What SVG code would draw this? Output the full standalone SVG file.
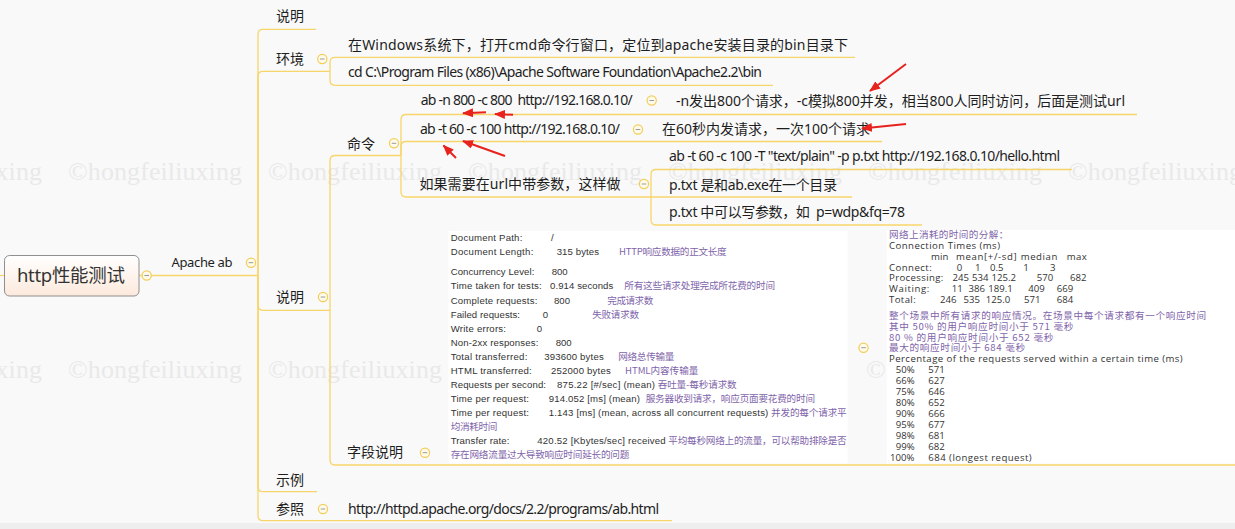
<svg xmlns="http://www.w3.org/2000/svg" xmlns:xlink="http://www.w3.org/1999/xlink" width="1235" height="529" viewBox="0 0 1235 529">
<style>
.bg{fill:#f9f9f9}
.wm{font-family:"Liberation Serif",serif;font-size:26px;fill:#e9e9e9}
.t{font-family:"Noto Sans","Noto Sans CJK SC",sans-serif;font-size:14px;fill:#1e1e1e}
.ta{font-family:"Noto Sans","Noto Sans CJK SC",sans-serif;font-size:13px;fill:#1e1e1e}
.root{font-family:"Noto Sans","Noto Sans CJK SC",sans-serif;font-size:18.5px;fill:#333}
.c{fill:none;stroke:#f7d56a;stroke-width:1.3}
.img{fill:#ffffff}
.e1{font-family:"Liberation Sans","Noto Sans CJK SC",sans-serif;font-size:9.6px;fill:#333}
.p1{font-family:"Noto Sans CJK SC",sans-serif;font-size:9.6px;fill:#8064aa}
.e2{font-family:"Open Sans","Noto Sans CJK SC",sans-serif;font-size:9.6px;fill:#333}
.p2{font-family:"Noto Sans CJK SC","Open Sans",sans-serif;font-size:9.6px;fill:#8064aa}
.ar{stroke:#e8221c;stroke-width:2;fill:none}
</style>
<defs>
<linearGradient id="rootg" x1="0" y1="0" x2="0" y2="1">
<stop offset="0" stop-color="#ffffff"/>
<stop offset="1" stop-color="#fce9dc"/>
</linearGradient>
<g id="col">
<circle cx="0" cy="0" r="4.6" fill="#fffbea" stroke="#f2cd58" stroke-width="1.2"/>
<line x1="-2.3" y1="0" x2="2.3" y2="0" stroke="#9a9a9a" stroke-width="1"/>
</g>
<marker id="ah" markerUnits="userSpaceOnUse" markerWidth="11" markerHeight="9" refX="10" refY="4.5" orient="auto">
<path d="M0,0 L11,4.5 L0,9 Z" fill="#e8221c"/>
</marker>
</defs>
<rect class="bg" x="0" y="0" width="1235" height="529"/>
<rect x="0" y="523" width="1235" height="6" fill="#eeeeee"/>
<g id="watermark">
<text class="wm" x="-132" y="180" textLength="174">©hongfeiliuxing</text>
<text class="wm" x="68" y="180" textLength="174">©hongfeiliuxing</text>
<text class="wm" x="268" y="180" textLength="174">©hongfeiliuxing</text>
<text class="wm" x="468" y="180" textLength="174">©hongfeiliuxing</text>
<text class="wm" x="668" y="180" textLength="174">©hongfeiliuxing</text>
<text class="wm" x="868" y="180" textLength="174">©hongfeiliuxing</text>
<text class="wm" x="1068" y="180" textLength="174">©hongfeiliuxing</text>
<text class="wm" x="-132" y="378" textLength="174">©hongfeiliuxing</text>
<text class="wm" x="68" y="378" textLength="174">©hongfeiliuxing</text>
<text class="wm" x="268" y="378" textLength="174">©hongfeiliuxing</text>
<text class="wm" x="866" y="378">©</text>
</g>
<g id="connectors">
<path class="c" d="M0,275.5 H4"/>
<path class="c" d="M139,275.5 H258"/>
<path class="c" d="M258,275.5 V34.3 Q258,29.3 263,29.3 H316"/>
<path class="c" d="M258,275.5 V76.3 Q258,71.3 263,71.3 H330"/>
<path class="c" d="M258,275.5 V305.3 Q258,310.3 263,310.3 H330"/>
<path class="c" d="M258,275.5 V486.7 Q258,491.7 263,491.7 H317"/>
<path class="c" d="M258,275.5 V515.7 Q258,520.7 263,520.7 H672"/>
<path class="c" d="M330,71.3 V62.3 Q330,57.3 335,57.3 H855"/>
<path class="c" d="M330,71.3 V80.3 Q330,85.3 335,85.3 H773"/>
<path class="c" d="M330,310.3 V160.5 Q330,155.5 335,155.5 H401"/>
<path class="c" d="M330,310.3 V460 Q330,465 335,465 H1235"/>
<path class="c" d="M401,155.5 V119.5 Q401,114.5 406,114.5 H1137"/>
<path class="c" d="M401,155.5 V146.5 Q401,141.5 406,141.5 H882"/>
<path class="c" d="M401,155.5 V192 Q401,197 406,197 H651"/>
<path class="c" d="M651,197 V174.5 Q651,169.5 656,169.5 H1072"/>
<path class="c" d="M651,197 H852"/>
<path class="c" d="M651,197 V220 Q651,225 656,225 H922"/>
</g>
<g id="root">
<rect x="4.5" y="255.5" width="134.5" height="40.5" rx="5" fill="url(#rootg)" stroke="#8f8f8f" stroke-width="1"/>
<text class="root" x="17" y="282" textLength="108">http性能测试</text>
<use xlink:href="#col" x="146.7" y="275.5"/>
</g>
<g id="apache-ab">
<text class="ta" x="171.5" y="267" textLength="61">Apache ab</text>
<use xlink:href="#col" x="251" y="262.7"/>
</g>
<g id="shuoming-top">
<text class="t" x="276" y="21" textLength="28">说明</text>
</g>
<g id="huanjing">
<text class="t" x="276" y="63.5" textLength="28">环境</text>
<use xlink:href="#col" x="322.3" y="59"/>
</g>
<g id="huanjing-1">
<text class="t" x="348" y="49.5" textLength="500">在Windows系统下，打开cmd命令行窗口，定位到apache安装目录的bin目录下</text>
</g>
<g id="huanjing-2">
<text class="t" x="348" y="77" textLength="414">cd C:\Program Files (x86)\Apache Software Foundation\Apache2.2\bin</text>
</g>
<g id="shuoming-mid">
<text class="t" x="276" y="302" textLength="28">说明</text>
<use xlink:href="#col" x="323" y="297"/>
</g>
<g id="mingling">
<text class="t" x="347" y="148.5" textLength="28">命令</text>
<use xlink:href="#col" x="394" y="143.3"/>
</g>
<g id="cmd-1">
<text class="t" x="420.7" y="105" textLength="212" xml:space="preserve">ab -n 800 -c 800  http://192.168.0.10/</text>
<use xlink:href="#col" x="651.7" y="100.5"/>
</g>
<g id="cmd-1-note">
<text class="t" x="676" y="106" textLength="449">-n发出800个请求，-c模拟800并发，相当800人同时访问，后面是测试url</text>
</g>
<g id="cmd-2">
<text class="t" x="420" y="133.5" textLength="200">ab -t 60 -c 100 http://192.168.0.10/</text>
<use xlink:href="#col" x="638" y="129.5"/>
</g>
<g id="cmd-2-note">
<text class="t" x="662" y="134" textLength="208">在60秒内发请求，一次100个请求</text>
</g>
<g id="cmd-3">
<text class="t" x="419.5" y="189" textLength="201">如果需要在url中带参数，这样做</text>
<use xlink:href="#col" x="644" y="184"/>
</g>
<g id="cmd-3-a">
<text class="t" x="669" y="161" textLength="391">ab -t 60 -c 100 -T "text/plain" -p p.txt http://192.168.0.10/hello.html</text>
</g>
<g id="cmd-3-b">
<text class="t" x="669" y="190" textLength="168">p.txt 是和ab.exe在一个目录</text>
</g>
<g id="cmd-3-c">
<text class="t" x="669" y="217" textLength="236" xml:space="preserve">p.txt 中可以写参数，如  p=wdp&amp;fq=78</text>
</g>
<g id="ziduan">
<text class="t" x="347" y="457" textLength="56">字段说明</text>
<use xlink:href="#col" x="425" y="452.7"/>
</g>
<g id="screenshot-1">
<rect class="img" x="448.3" y="231" width="399.4" height="232.3"/>
<text class="e1" x="450.7" y="241" textLength="71.6">Document Path:</text>
<text class="e1" x="551" y="241">/</text>
<text class="e1" x="450.7" y="255.3" textLength="82.6">Document Length:</text>
<text class="e1" x="556.7" y="255.3" textLength="42.3">315 bytes</text>
<text class="p1" x="619" y="255.3" textLength="107.7">HTTP响应数据的正文长度</text>
<text class="e1" x="450.7" y="275.3" textLength="83.6">Concurrency Level:</text>
<text class="e1" x="551.7" y="275.3" textLength="16">800</text>
<text class="e1" x="450.7" y="289.3" textLength="91">Time taken for tests:</text>
<text class="e1" x="550" y="289.3" textLength="63.3">0.914 seconds</text>
<text class="p1" x="624.3" y="289.3" textLength="150.7">所有这些请求处理完成所花费的时间</text>
<text class="e1" x="450.7" y="303.6" textLength="86.6">Complete requests:</text>
<text class="e1" x="554" y="303.6" textLength="16">800</text>
<text class="p1" x="607.3" y="303.6" textLength="46">完成请求数</text>
<text class="e1" x="450.7" y="317.6" textLength="69.3">Failed requests:</text>
<text class="e1" x="542.7" y="317.6">0</text>
<text class="p1" x="592.3" y="317.6" textLength="46.7">失败请求数</text>
<text class="e1" x="450.7" y="331.6" textLength="55.3">Write errors:</text>
<text class="e1" x="536.7" y="331.6">0</text>
<text class="e1" x="450.7" y="345.6" textLength="87.6">Non-2xx responses:</text>
<text class="e1" x="555.7" y="345.6" textLength="16">800</text>
<text class="e1" x="450.7" y="359.6" textLength="76.6">Total transferred:</text>
<text class="e1" x="544.3" y="359.6" textLength="59.4">393600 bytes</text>
<text class="p1" x="618.3" y="359.6" textLength="56">网络总传输量</text>
<text class="e1" x="450.7" y="373.6" textLength="81">HTML transferred:</text>
<text class="e1" x="551" y="373.6" textLength="59.7">252000 bytes</text>
<text class="p1" x="625" y="373.6" textLength="73.3">HTML内容传输量</text>
<text class="e1" x="450.7" y="388" textLength="95.3">Requests per second:</text>
<text class="e1" x="557" y="388" textLength="98">875.22 [#/sec] (mean)</text>
<text class="p1" x="657.7" y="388" textLength="79">吞吐量-每秒请求数</text>
<text class="e1" x="450.7" y="402" textLength="78.3">Time per request:</text>
<text class="e1" x="548.7" y="402" textLength="91.3">914.052 [ms] (mean)</text>
<text class="p1" x="645.7" y="402" textLength="169.3">服务器收到请求，响应页面要花费的时间</text>
<text class="e1" x="450.7" y="416" textLength="78.3">Time per request:</text>
<text class="e1" x="548.7" y="416" textLength="219.6">1.143 [ms] (mean, across all concurrent requests)</text>
<text class="p1" x="771" y="416" textLength="75.7">并发的每个请求平</text>
<text class="p1" x="450.7" y="430" textLength="46.6">均消耗时间</text>
<text class="e1" x="450.7" y="444" textLength="58.6">Transfer rate:</text>
<text class="e1" x="537.3" y="444" textLength="128.4">420.52 [Kbytes/sec] received</text>
<text class="p1" x="668.3" y="444" textLength="178.4">平均每秒网络上的流量，可以帮助排除是否</text>
<text class="p1" x="450.7" y="458.3" textLength="178.6">存在网络流量过大导致响应时间延长的问题</text>
<use xlink:href="#col" x="863.5" y="347.7"/>
</g>
<g id="screenshot-2">
<rect class="img" x="886.7" y="230" width="348.3" height="233.3"/>
<text class="p2" x="889" y="238" textLength="119.3">网络上消耗的时间的分解：</text>
<text class="e2" x="889" y="249" textLength="111">Connection Times (ms)</text>
<text class="e2" x="931" y="260" textLength="17.3">min</text>
<text class="e2" x="956" y="260" textLength="60.7">mean[+/-sd]</text>
<text class="e2" x="1020.7" y="260" textLength="36.6">median</text>
<text class="e2" x="1066.7" y="260" textLength="20">max</text>
<text class="e2" x="889" y="270.6" textLength="42.7">Connect:</text>
<text class="e2" x="956.7" y="270.6">0</text>
<text class="e2" x="975" y="270.6">1</text>
<text class="e2" x="990" y="270.6">0.5</text>
<text class="e2" x="1023.3" y="270.6">1</text>
<text class="e2" x="1050" y="270.6">3</text>
<text class="e2" x="889" y="281" textLength="54.3">Processing:</text>
<text class="e2" x="952.5" y="281">245</text>
<text class="e2" x="972" y="281">534</text>
<text class="e2" x="991.5" y="281">125.2</text>
<text class="e2" x="1036.7" y="281">570</text>
<text class="e2" x="1070" y="281">682</text>
<text class="e2" x="889" y="292" textLength="40.3">Waiting:</text>
<text class="e2" x="951.7" y="292">11</text>
<text class="e2" x="968.5" y="292">386</text>
<text class="e2" x="988.3" y="292">189.1</text>
<text class="e2" x="1028.3" y="292">409</text>
<text class="e2" x="1056.7" y="292">669</text>
<text class="e2" x="889" y="303" textLength="26.7">Total:</text>
<text class="e2" x="940" y="303">246</text>
<text class="e2" x="963.5" y="303">535</text>
<text class="e2" x="985.7" y="303">125.0</text>
<text class="e2" x="1024" y="303">571</text>
<text class="e2" x="1056.7" y="303">684</text>
<text class="p2" x="889" y="319" textLength="317">整个场景中所有请求的响应情况。在场景中每个请求都有一个响应时间</text>
<text class="p2" x="889" y="330" textLength="184.3">其中 50% 的用户响应时间小于 571 毫秒</text>
<text class="p2" x="889" y="341" textLength="164.3">80 % 的用户响应时间小于 652 毫秒</text>
<text class="p2" x="889" y="351.3" textLength="136">最大的响应时间小于 684 毫秒</text>
<text class="e2" x="889" y="362.3" textLength="293.7">Percentage of the requests served within a certain time (ms)</text>
<text class="e2" x="895.7" y="373.3">50%</text><text class="e2" x="928.3" y="373.3">571</text>
<text class="e2" x="895.7" y="384.3">66%</text><text class="e2" x="928.3" y="384.3">627</text>
<text class="e2" x="895.7" y="395.2">75%</text><text class="e2" x="928.3" y="395.2">646</text>
<text class="e2" x="895.7" y="406.1">80%</text><text class="e2" x="928.3" y="406.1">652</text>
<text class="e2" x="895.7" y="417.1">90%</text><text class="e2" x="928.3" y="417.1">666</text>
<text class="e2" x="895.7" y="428">95%</text><text class="e2" x="928.3" y="428">677</text>
<text class="e2" x="895.7" y="439">98%</text><text class="e2" x="928.3" y="439">681</text>
<text class="e2" x="895.7" y="450">99%</text><text class="e2" x="928.3" y="450">682</text>
<text class="e2" x="890" y="461">100%</text><text class="e2" x="928.3" y="461" textLength="103.4">684 (longest request)</text>
</g>
<g id="shili">
<text class="t" x="276" y="485" textLength="28">示例</text>
</g>
<g id="canzhao">
<text class="t" x="276" y="513.5" textLength="28">参照</text>
<use xlink:href="#col" x="323" y="509"/>
</g>
<g id="canzhao-1">
<text class="t" x="348" y="513.5" textLength="311">http://httpd.apache.org/docs/2.2/programs/ab.html</text>
</g>
<g id="red-arrows">
<line class="ar" x1="906" y1="64" x2="870" y2="91" marker-end="url(#ah)"/>
<line class="ar" x1="906" y1="124" x2="862" y2="128.5" marker-end="url(#ah)"/>
<line class="ar" x1="486" y1="112.3" x2="463" y2="113.3" marker-end="url(#ah)"/>
<line class="ar" x1="513" y1="114.8" x2="495" y2="114" marker-end="url(#ah)"/>
<line class="ar" x1="505" y1="156" x2="463" y2="141" marker-end="url(#ah)"/>
<line class="ar" x1="456" y1="158" x2="443.5" y2="145.5" marker-end="url(#ah)"/>
</g>
</svg>
